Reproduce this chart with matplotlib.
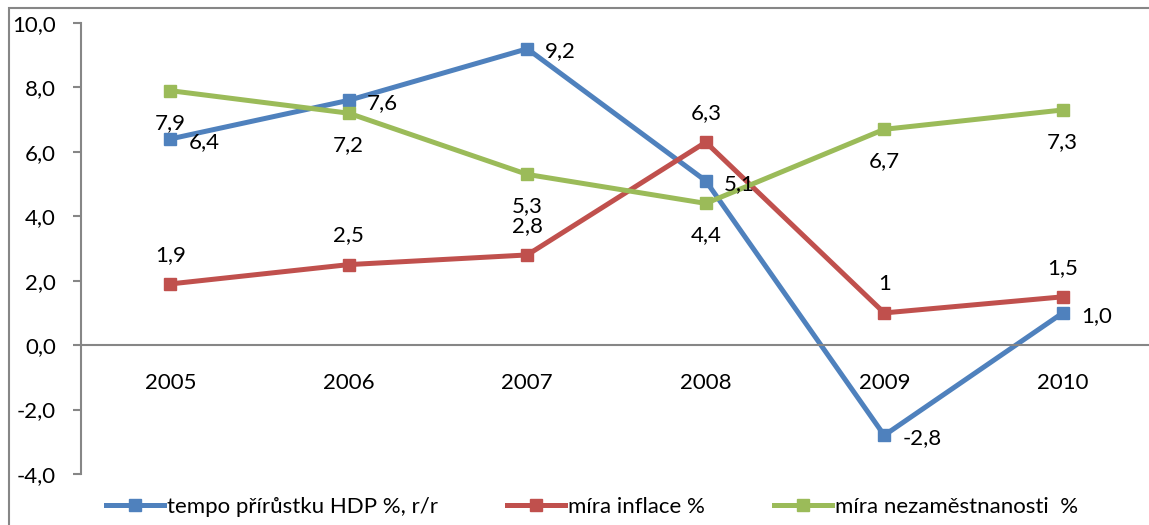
import matplotlib
matplotlib.use("Agg")
import matplotlib.pyplot as plt
from matplotlib.patches import Rectangle

plt.rcParams['font.family'] = ['Lato', 'DejaVu Sans']

years = ['2005', '2006', '2007', '2008', '2009', '2010']
hdp = [6.4, 7.6, 9.2, 5.1, -2.8, 1.0]
hdp_labels = ['6,4', '7,6', '9,2', '5,1', '-2,8', '1,0']
inflace = [1.9, 2.5, 2.8, 6.3, 1.0, 1.5]
inflace_labels = ['1,9', '2,5', '2,8', '6,3', '1', '1,5']
nezam = [7.9, 7.2, 5.3, 4.4, 6.7, 7.3]
nezam_labels = ['7,9', '7,2', '5,3', '4,4', '6,7', '7,3']
yticks = [-4, -2, 0, 2, 4, 6, 8, 10]
names = ['tempo přírůstku HDP %, r/r', 'míra inflace %', 'míra nezaměstnanosti  %']

grey = '#868686'
fs = 16

fig = plt.figure(figsize=(11.49, 5.25), dpi=100)
fig.patches.append(Rectangle((9 / 1149, -0.5), 2, 1.5 - 8 / 525, transform=fig.transFigure,
                             fill=False, edgecolor=grey, linewidth=1.5))
ax = fig.add_axes([81 / 1149, 1 - 474 / 525, 1071 / 1149, 451 / 525])

x = list(range(len(years)))
series = [(hdp, hdp_labels, '#4F81BD', (13, -2), 'left'),
          (inflace, inflace_labels, '#C0504D', (0, 21), 'center'),
          (nezam, nezam_labels, '#9BBB59', (0, -23), 'center')]
for (vals, labs, col, off, ha), name in zip(series, names):
    ax.plot(x, vals, color=col, lw=3.6, marker='s', ms=8, label=name, solid_joinstyle='miter')
    for xi, v, t in zip(x, vals, labs):
        ax.annotate(t, (xi, v), xytext=off, textcoords='offset points',
                    ha=ha, va='center', fontsize=fs)

ax.set_xlim(-0.5, 5.5)
ax.set_ylim(-4, 10)
ax.set_yticks(yticks)
ax.set_yticklabels([('%.1f' % v).replace('.', ',') for v in yticks])
ax.set_xticks(x)
ax.set_xticklabels(years)

for s in ['top', 'right']:
    ax.spines[s].set_visible(False)
ax.spines['left'].set_color(grey)
ax.spines['left'].set_linewidth(1.5)
ax.spines['bottom'].set_position(('data', 0))
ax.spines['bottom'].set_color(grey)
ax.spines['bottom'].set_linewidth(1.5)
ax.tick_params(axis='y', direction='out', length=6, width=1.5, color=grey, pad=12, labelsize=fs)
ax.tick_params(axis='x', length=0, pad=20, labelsize=fs)

ax.legend(loc='center', bbox_to_anchor=(592 / 1149, 1 - 507 / 525), bbox_transform=fig.transFigure,
          ncol=3, frameon=False, fontsize=fs, handlelength=2.6, handletextpad=0.15,
          columnspacing=3.1, markerscale=1.0)

fig.savefig('out.png', dpi=100)
